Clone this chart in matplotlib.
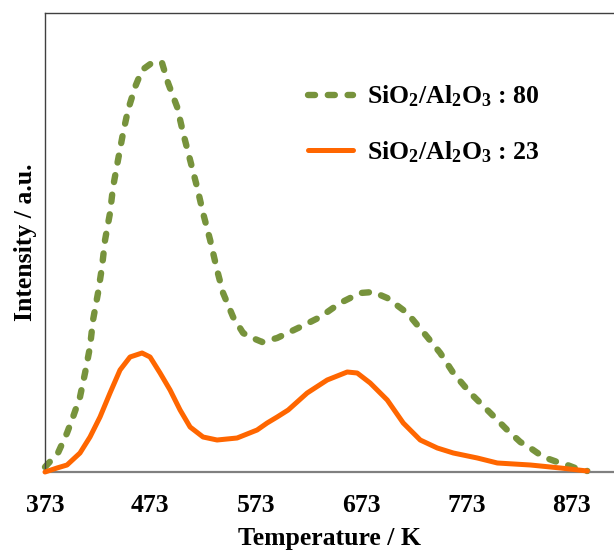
import matplotlib
matplotlib.use("Agg")
import matplotlib.pyplot as plt

plt.rcParams["font.family"] = ["Liberation Serif", "DejaVu Serif"]
plt.rcParams["font.weight"] = "bold"
plt.rcParams["mathtext.fontset"] = "custom"
plt.rcParams["mathtext.rm"] = "Liberation Serif:bold"
plt.rcParams["mathtext.bf"] = "Liberation Serif:bold"
plt.rcParams["mathtext.it"] = "Liberation Serif:bold:italic"
plt.rcParams["mathtext.default"] = "bf"

# Temperature (K) and TPD intensity (a.u.) for each sample
temp_80 = [373.0, 385.3, 393.9, 399.6, 406.2, 411.0, 415.7, 418.6, 423.3, 427.1,
           430.0, 434.7, 437.6, 442.3, 447.1, 451.8, 458.5, 465.1, 475.6, 484.1,
           489.8, 498.4, 504.1, 510.7, 517.3, 523.0, 529.7, 536.3, 542.0, 551.5,
           561.0, 567.7, 579.1, 593.3, 615.2, 634.2, 653.1, 672.1, 684.5, 697.8,
           716.8, 735.8, 748.1, 760.5, 776.6, 792.8, 802.3, 811.7, 824.1, 833.6,
           845.9, 859.2, 868.7, 881.1, 887.7]
int_80 = [5, 19, 39, 55, 75, 99, 125, 152, 179, 205,
          232, 259, 285, 312, 339, 362, 385, 402, 410, 409,
          389, 365, 339, 312, 285, 259, 232, 202, 179, 155,
          139, 135, 130, 134, 145, 155, 169, 179, 180, 174,
          159, 135, 119, 99, 79, 62, 52, 42, 30, 24,
          15, 10, 7, 2, 1]

temp_23 = [373.0, 384.4, 393.9, 406.2, 415.7, 425.2, 434.7, 444.2, 453.7, 465.1,
           472.7, 482.2, 491.7, 501.2, 510.7, 523.0, 536.3, 555.3, 574.3, 583.8,
           593.3, 603.8, 621.8, 640.8, 659.8, 669.3, 681.6, 697.8, 713.0, 729.1,
           745.3, 760.5, 783.3, 802.3, 833.6, 862.1, 887.7]
int_23 = [0, 4, 7, 19, 35, 55, 79, 102, 115, 119,
          115, 99, 82, 62, 45, 35, 32, 34, 42, 49,
          55, 62, 79, 92, 100, 99, 89, 72, 49, 32,
          24, 19, 14, 9, 7, 4, 1]

labels = [r"SiO$_2$/Al$_2$O$_3$ : 80", r"SiO$_2$/Al$_2$O$_3$ : 23"]
x_ticks = [373, 473, 573, 673, 773, 873]

fig = plt.figure(figsize=(6.14, 5.5), dpi=100)
ax = fig.add_axes([45 / 614, 78 / 550, 1 - 45 / 614, 459 / 550])

ax.plot(temp_80, int_80, color="#77933C", lw=4.6, linestyle=(0, (1.1, 2.0)),
        dash_capstyle="round", solid_capstyle="round", label=labels[0], clip_on=False)
ax.plot(temp_23, int_23, color="#FF6600", lw=3.6, solid_capstyle="round",
        label=labels[1], clip_on=False, zorder=3)

ax.set_xlim(373, 913)
ax.set_ylim(0, 459)
ax.set_xticks(x_ticks)
ax.set_xticklabels([str(t) for t in x_ticks])
ax.set_yticks([])
ax.tick_params(axis="x", length=0, pad=16, labelsize=18.5)

for side in ("left", "top"):
    ax.spines[side].set_color("#404040")
    ax.spines[side].set_linewidth(1.0)
ax.spines["right"].set_visible(False)
ax.spines["bottom"].set_color("#808080")
ax.spines["bottom"].set_linewidth(1.6)

ax.set_xlabel("Temperature / K", fontsize=18.5, fontweight="bold", labelpad=7)
ax.set_ylabel("Intensity / a.u.", fontsize=18.5, fontweight="bold", labelpad=6)

leg = ax.legend(loc="upper left", bbox_to_anchor=(0.444, 0.868), frameon=False,
                fontsize=18.5, handlelength=1.75, handletextpad=0.55,
                labelspacing=1.15, borderaxespad=0)

fig.savefig("out.png", dpi=100)
